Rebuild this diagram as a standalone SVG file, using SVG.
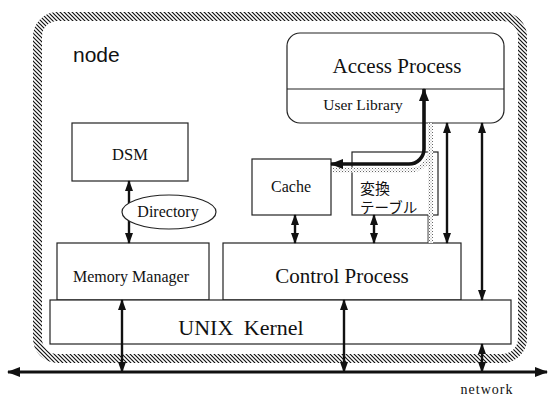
<svg xmlns="http://www.w3.org/2000/svg" width="549" height="397" viewBox="0 0 549 397">
  <defs>
    <!-- diagonal hatching for the node boundary -->
    <pattern id="hatch" patternUnits="userSpaceOnUse" width="4" height="4">
      <rect width="4" height="4" fill="#fff"/>
      <path d="M-1,-1 L5,5 M3,-1 L5,1 M-1,3 L1,5" stroke="#111" stroke-width="1.2"/>
    </pattern>
    <!-- stippled shading beside the library path -->
    <pattern id="stipple" patternUnits="userSpaceOnUse" width="3" height="3">
      <rect width="3" height="3" fill="#fff"/>
      <rect width="1" height="1" fill="#666"/>
      <rect x="1.5" y="1.5" width="1" height="1" fill="#999"/>
    </pattern>
    <marker id="ah" viewBox="0 0 11 8" refX="10" refY="4" markerWidth="11" markerHeight="8" markerUnits="userSpaceOnUse" orient="auto-start-reverse">
      <path d="M0,0 L11,4 L0,8 z" fill="#111"/>
    </marker>
    <marker id="ahBig" viewBox="0 0 13 10" refX="12" refY="5" markerWidth="13" markerHeight="10" markerUnits="userSpaceOnUse" orient="auto-start-reverse">
      <path d="M0,0 L13,5 L0,10 z" fill="#111"/>
    </marker>
  </defs>
  <style>
    .box { fill: #fff; stroke: #222; stroke-width: 1.2; }
    .serif { font-family: 'Liberation Serif', 'Times New Roman', Times, serif; fill: #111; }
    .sans { font-family: 'Liberation Sans', Arial, Helvetica, sans-serif; fill: #111; }
    .jp { font-family: 'Noto Sans CJK JP', sans-serif; fill: #111; }
    .conn { fill: none; stroke: #111; stroke-width: 2.4; marker-start: url(#ah); marker-end: url(#ah); }
  </style>

  <rect width="549" height="397" fill="#fff"/>

  <!-- node boundary -->
  <g id="node">
    <rect x="37.5" y="16.5" width="485" height="342" rx="20" ry="20" fill="none" stroke="url(#hatch)" stroke-width="9"/>
    <text class="sans" x="73" y="62" font-size="21">node</text>
  </g>

  <g id="dsm">
    <rect class="box" x="72" y="123" width="116" height="58"/>
    <text class="serif" x="130" y="160" font-size="16.5" text-anchor="middle">DSM</text>
  </g>

  <g id="memory-manager">
    <rect class="box" x="57" y="243" width="152" height="57"/>
    <text class="serif" x="131" y="282" font-size="16" text-anchor="middle">Memory Manager</text>
  </g>

  <g id="control-process">
    <rect class="box" x="223" y="243" width="238" height="57"/>
    <text class="serif" x="342" y="283" font-size="21" text-anchor="middle">Control Process</text>
  </g>

  <g id="unix-kernel">
    <rect class="box" x="50" y="300" width="461" height="44"/>
    <text class="serif" x="241" y="335" font-size="22" text-anchor="middle" word-spacing="5">UNIX Kernel</text>
  </g>

  <g id="access-process">
    <rect class="box" x="287" y="33" width="217" height="90" rx="13" ry="13"/>
    <line x1="287" y1="89" x2="504" y2="89" stroke="#222" stroke-width="1.2"/>
    <text class="serif" x="397" y="73" font-size="21" text-anchor="middle">Access Process</text>
    <text class="serif" x="363" y="110" font-size="15.5" text-anchor="middle">User Library</text>
  </g>

  <g id="cache">
    <rect class="box" x="252" y="159" width="79" height="56"/>
    <text class="serif" x="291" y="192" font-size="16" text-anchor="middle">Cache</text>
  </g>

  <g id="conversion-table">
    <rect class="box" x="352" y="152" width="86" height="63"/>
    <text class="jp" x="360" y="194" font-size="15">変換</text>
    <text class="jp" x="360" y="213" font-size="14.5">テーブル</text>
  </g>

  <g id="connectors">
    <!-- stippled shading along the library path -->
    <path d="M333,170 H410 A20,20 0 0 0 430.5,150 V123 M430.5,150 V243" fill="none" stroke="url(#stipple)" stroke-width="5"/>
    <line x1="428" y1="215" x2="428" y2="243" stroke="#222" stroke-width="0.8"/>
    <!-- library to cache -->
    <path d="M424,89 V149 A15,15 0 0 1 409,164 H331" fill="none" stroke="#111" stroke-width="3.6" marker-start="url(#ahBig)" marker-end="url(#ahBig)"/>
    <line class="conn" x1="129" y1="181" x2="129" y2="243"/>
    <line class="conn" x1="295" y1="215" x2="295" y2="243"/>
    <line class="conn" x1="374" y1="215" x2="374" y2="243"/>
    <line class="conn" x1="447" y1="123" x2="447" y2="243"/>
    <line class="conn" x1="482" y1="123" x2="482" y2="300"/>
    <line class="conn" x1="122" y1="300" x2="122" y2="372"/>
    <line class="conn" x1="344" y1="300" x2="344" y2="372"/>
    <line class="conn" x1="482" y1="344" x2="482" y2="372"/>
    <!-- network -->
    <line x1="8" y1="372" x2="547" y2="372" stroke="#111" stroke-width="3" marker-start="url(#ahBig)" marker-end="url(#ahBig)"/>
  </g>

  <g id="directory">
    <ellipse cx="169" cy="212" rx="47" ry="17" fill="#fff" stroke="#222" stroke-width="1.2"/>
    <text class="serif" x="168" y="217" font-size="16" text-anchor="middle">Directory</text>
  </g>

  <g id="network-label">
    <text class="serif" x="487" y="394" font-size="14" text-anchor="middle" letter-spacing="1">network</text>
  </g>
</svg>
